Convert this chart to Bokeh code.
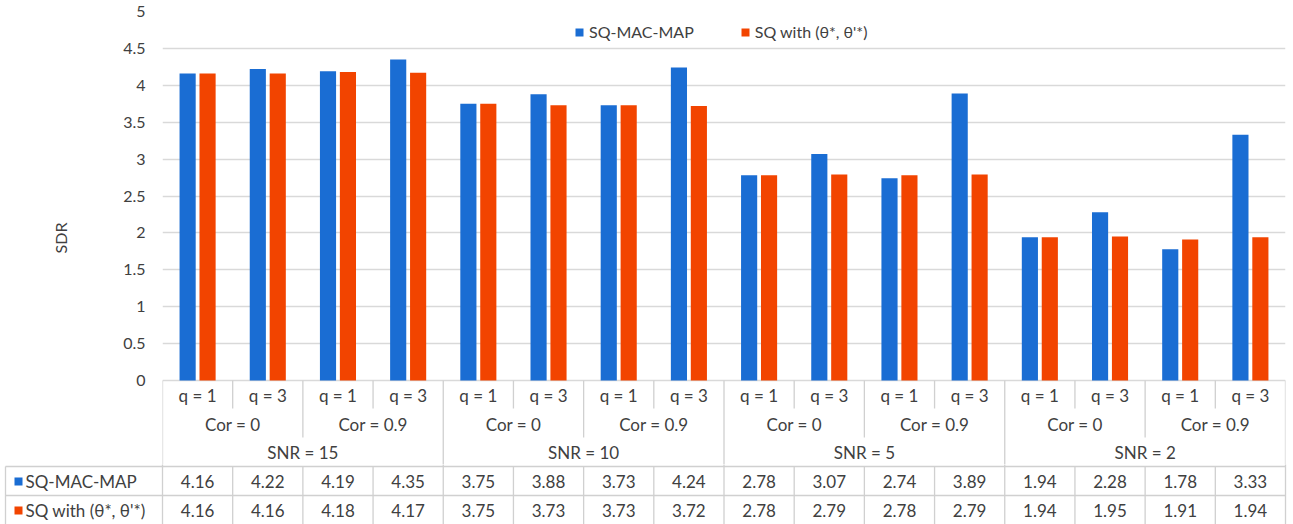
from bokeh.plotting import figure
from bokeh.layouts import column
from bokeh.models import (Range1d, FixedTicker, Legend, LegendItem,
                          ColumnDataSource, CustomJSTickFormatter)
from bokeh.transform import dodge
from bokeh.core.properties import value
from bokeh.embed import file_html
from bokeh.resources import INLINE

# ---- data -------------------------------------------------------------
snr_labels = ["SNR = 15", "SNR = 10", "SNR = 5", "SNR = 2"]
cor_labels = ["Cor = 0", "Cor = 0.9"]
q_labels = ["q = 1", "q = 3"]
series_names = ["SQ-MAC-MAP", "SQ with (θ*, θ'*)"]
sq_mac_map = [4.16, 4.22, 4.19, 4.35, 3.75, 3.88, 3.73, 4.24,
              2.78, 3.07, 2.74, 3.89, 1.94, 2.28, 1.78, 3.33]
sq_theta = [4.16, 4.16, 4.18, 4.17, 3.75, 3.73, 3.73, 3.72,
            2.78, 2.79, 2.78, 2.79, 1.94, 1.95, 1.91, 1.94]
y_ticks = [0, 0.5, 1, 1.5, 2, 2.5, 3, 3.5, 4, 4.5, 5]

# ---- styling ----------------------------------------------------------
FONT = value("Lato")
BLUE = "#1a6dd3"
ORANGE = "#f24400"
GRID = "#d9d9d9"
LINE = "#d0d0d0"
TEXT = "#404040"
TABLE_FONT = "17px"
W = 1293
LEFT, RIGHT, TOP = 162, 8, 11
PLOT_PX = 369          # pixel height of the 0..5 value span
SPILL = 84             # chart frame continues this far below zero (header rows)
CHART_H = TOP + PLOT_PX + SPILL
TOTAL_H = 524

n = len(sq_mac_map)
per_cor = len(q_labels)
per_snr = len(cor_labels) * per_cor
cat_px = (W - LEFT - RIGHT) / n
ymax = y_ticks[-1]

centers = [i + 0.5 for i in range(n)]
src = ColumnDataSource(dict(x=centers, a=sq_mac_map, b=sq_theta))

# table row geometry, in pixels below the zero line
q_mid, cor_mid, snr_mid, row1_mid, row2_mid = 15, 44, 72, 101, 130
q_bottom, cor_bottom, snr_bottom, row_mid = 28, 57, 86, 115
key_left = -(LEFT - 5) / cat_px
table_end = TOTAL_H - TOP - PLOT_PX + 2


def boundary_bottom(i):
    """How far down a divider at category boundary i reaches in the header."""
    if i % per_snr == 0:
        return None
    if i % per_cor == 0:
        return cor_bottom
    return q_bottom


def table_lines():
    """All grid lines of the table, in pixels below the zero line."""
    x0, y0, x1, y1 = [], [], [], []

    def seg(a, b, c, d):
        x0.append(a); y0.append(b); x1.append(c); y1.append(d)

    for y in (snr_bottom, row_mid):
        seg(key_left, y, n, y)
    seg(key_left, snr_bottom, key_left, table_end)
    for i in range(n + 1):
        reach = boundary_bottom(i)
        if reach is None:
            seg(i, 0, i, table_end)
        else:
            seg(i, 0, i, reach)
            seg(i, snr_bottom, i, table_end)
    return x0, y0, x1, y1


def below(px):
    """Chart value that sits px pixels under the zero line."""
    return -px * ymax / PLOT_PX


lx0, ly0, lx1, ly1 = table_lines()
cor_x = [(k + 0.5) * per_cor for k in range(n // per_cor)]
cor_text = [cor_labels[k % len(cor_labels)] for k in range(len(cor_x))]
q_text = [q_labels[i % per_cor] for i in range(n)]
snr_x = [(k + 0.5) * per_snr for k in range(len(snr_labels))]

# ---- bar chart --------------------------------------------------------
ystart = below(SPILL)
p = figure(width=W, height=CHART_H, output_backend="svg", toolbar_location=None,
           x_range=Range1d(0, n), y_range=Range1d(ystart, ymax),
           x_axis_location=None, title=None,
           min_border_left=LEFT, min_border_right=RIGHT,
           min_border_top=TOP, min_border_bottom=0)
p.frame_align = False
p.outline_line_color = None
p.background_fill_color = "white"
p.border_fill_color = "white"
p.xgrid.visible = False
p.ygrid.ticker = FixedTicker(ticks=y_ticks)
p.ygrid.grid_line_color = GRID
p.ygrid.grid_line_width = 1.3

ax = p.yaxis[0]
ax.ticker = FixedTicker(ticks=y_ticks)
ax.formatter = CustomJSTickFormatter(code="return tick.toString()")
ax.axis_line_color = None
ax.major_tick_line_color = None
ax.minor_tick_line_color = None
ax.major_tick_out = 0
ax.major_tick_in = 0
ax.major_label_standoff = 17
ax.major_label_text_font = "Lato"
ax.major_label_text_font_size = "16px"
ax.major_label_text_color = TEXT
ax.axis_label = "SDR"
ax.axis_label_text_font = "Lato"
ax.axis_label_text_font_size = "16px"
ax.axis_label_text_font_style = "normal"
ax.axis_label_text_color = TEXT
ax.axis_label_standoff = 50

# header rows of the table (q, Cor, SNR) live just under the zero line
p.segment(x0=lx0, y0=[below(v) for v in ly0], x1=lx1, y1=[below(v) for v in ly1],
          line_color=LINE, line_width=1.3)


def head(xs, px, texts):
    p.text(x=xs, y=[below(px)] * len(xs), text=texts,
           text_align="center", text_baseline="middle",
           text_font=FONT, text_font_size=TABLE_FONT, text_color=TEXT)


head(centers, q_mid, q_text)
head(cor_x, cor_mid, cor_text)
head(snr_x, snr_mid, snr_labels)

bw = 0.23
off = 0.142
r1 = p.vbar(x=dodge("x", -off), top="a", width=bw, bottom=0, source=src,
            fill_color=BLUE, line_color=None)
r2 = p.vbar(x=dodge("x", off), top="b", width=bw, bottom=0, source=src,
            fill_color=ORANGE, line_color=None)

legend = Legend(items=[LegendItem(label=series_names[0], renderers=[r1]),
                       LegendItem(label=series_names[1], renderers=[r2])],
                orientation="horizontal", location=(574 - LEFT, 339 + SPILL),
                padding=0, margin=0, spacing=46, label_standoff=5,
                glyph_width=10, glyph_height=10,
                label_text_font="Lato", label_text_font_size="16px",
                label_text_color=TEXT, border_line_color=None,
                background_fill_color="white", background_fill_alpha=1)
p.add_layout(legend)

# ---- value rows of the data table --------------------------------------
TABLE_H = TOTAL_H - CHART_H
t = figure(width=W, height=TABLE_H, output_backend="svg", toolbar_location=None,
           x_range=Range1d(-LEFT / cat_px, n + RIGHT / cat_px),
           y_range=Range1d(SPILL + TABLE_H, SPILL),
           x_axis_location=None, y_axis_location=None, title=None,
           min_border=0)
t.frame_align = False
t.outline_line_color = None
t.xgrid.visible = False
t.ygrid.visible = False
t.background_fill_color = "white"
t.border_fill_color = "white"

t.segment(x0=lx0, y0=ly0, x1=lx1, y1=ly1, line_color=LINE, line_width=1.3)


def put(xs, ys, texts, align="center"):
    t.text(x=xs, y=ys, text=texts, text_align=align, text_baseline="middle",
           text_font=FONT, text_font_size=TABLE_FONT, text_color=TEXT)


put(centers, [row1_mid] * n, [f"{v:.2f}" for v in sq_mac_map])
put(centers, [row2_mid] * n, [f"{v:.2f}" for v in sq_theta])

key_x = -(LEFT - 18) / cat_px
t.rect(x=[key_x, key_x], y=[row1_mid, row2_mid], width=8, height=8,
       width_units="screen", height_units="screen",
       fill_color=[BLUE, ORANGE], line_color=None)
put([-(LEFT - 25) / cat_px] * 2, [row1_mid, row2_mid], series_names, align="left")

layout = column(p, t, spacing=0)
open("out.html", "w").write(file_html(layout, INLINE))
